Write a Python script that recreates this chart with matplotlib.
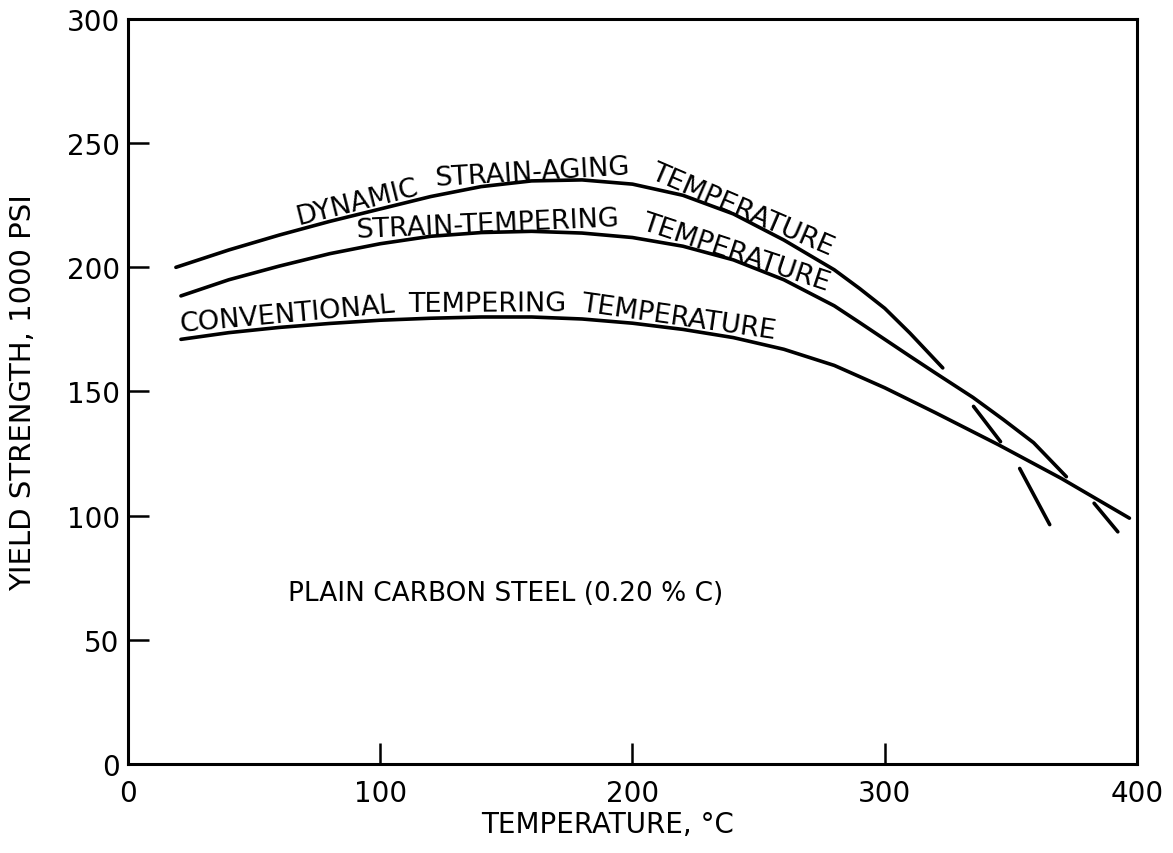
import matplotlib.pyplot as plt
import numpy as np

# yield strength (1000 psi) vs temperature (C)
dsa_temp = [19, 40, 60, 80, 100, 120, 140, 160, 180, 200, 220, 240, 260, 280, 290, 300, 310, 323]
dsa_ys = [200, 207, 213, 218.5, 223.5, 228.5, 232.5, 234.8, 235.2, 233.5, 229, 221.5, 211, 199, 191.5,
          183.5, 173.5, 159.5]

st_temp = [21, 40, 60, 80, 100, 120, 140, 160, 180, 200, 220, 240, 260, 280, 290, 300, 310, 320, 335, 347,
           359, 372]
st_ys = [188.5, 195, 200.5, 205.5, 209.5, 212.5, 214, 214.5, 213.8, 212, 208.5, 203, 195, 184.5, 177.8,
         171, 164.2, 157.5, 147.6, 138.7, 129.4, 115.7]

ct_temp = [21, 40, 60, 80, 100, 120, 140, 160, 180, 200, 220, 240, 260, 280, 300, 320, 345, 370, 397]
ct_ys = [171, 173.7, 175.8, 177.4, 178.7, 179.5, 180, 180, 179.2, 177.5, 175, 171.7, 167, 160.5, 151.5, 141.5,
         128.6, 115, 99]

# short strokes near the lower ends of the curves
stroke_temp = [[335.2, 345.9], [353.5, 365.4], [383, 392.4]]
stroke_ys = [[144, 129.8], [119, 96.4], [105, 93.5]]

xticks = [0, 100, 200, 300, 400]
yticks = [0, 50, 100, 150, 200, 250, 300]

dsa_label = "DYNAMIC STRAIN-AGING TEMPERATURE"
st_label = "STRAIN-TEMPERING TEMPERATURE"
ct_label = "CONVENTIONAL TEMPERING TEMPERATURE"
note = "PLAIN CARBON STEEL (0.20 % C)"


def label_along(ax, xs, ys, text, x_start, offset, size, gap=2.0):
    """write the words of text one by one along a curve, above it"""
    r = ax.figure.canvas.get_renderer()
    pts = ax.transData.transform(np.column_stack([xs, ys]))
    seg = np.hypot(np.diff(pts[:, 0]), np.diff(pts[:, 1]))
    s = np.concatenate([[0], np.cumsum(seg)])
    fine = np.linspace(0, s[-1], 3000)
    px = np.interp(fine, s, pts[:, 0])
    py = np.interp(fine, s, pts[:, 1])
    x0 = ax.transData.transform((x_start, 0))[0]
    s_cur = np.interp(x0, px, fine)

    sp = ax.text(0, 0, "A A", fontsize=size)
    sp2 = ax.text(0, 0, "AA", fontsize=size)
    space = (sp.get_window_extent(r).width - sp2.get_window_extent(r).width) * gap
    sp.remove()
    sp2.remove()

    for w in text.split(" "):
        t = ax.text(0, 0, w, fontsize=size, ha="center", va="baseline", rotation_mode="anchor")
        width = t.get_window_extent(r).width
        sa, sc, sb = s_cur, s_cur + width / 2, s_cur + width
        xa, ya = np.interp(sa, fine, px), np.interp(sa, fine, py)
        xb, yb = np.interp(sb, fine, px), np.interp(sb, fine, py)
        xc, yc = np.interp(sc, fine, px), np.interp(sc, fine, py)
        ang = np.arctan2(yb - ya, xb - xa)
        mx = 0.5 * (xc + 0.5 * (xa + xb))
        my = 0.5 * (yc + 0.5 * (ya + yb))
        mx -= np.sin(ang) * offset
        my += np.cos(ang) * offset
        dx, dy = ax.transData.inverted().transform((mx, my))
        t.set_position((dx, dy))
        t.set_rotation(np.degrees(ang))
        s_cur = sb + space


fig = plt.figure(figsize=(11.73, 8.54), dpi=100)
ax = fig.add_axes([0.1091, 0.1042, 0.8602, 0.8724])

lw = 2.6
ax.plot(dsa_temp, dsa_ys, color="black", lw=lw, solid_capstyle="round")
ax.plot(st_temp, st_ys, color="black", lw=lw, solid_capstyle="round")
ax.plot(ct_temp, ct_ys, color="black", lw=lw, solid_capstyle="round")
for xs, ys in zip(stroke_temp, stroke_ys):
    ax.plot(xs, ys, color="black", lw=lw, solid_capstyle="round")

ax.set_xlim(0, 400)
ax.set_ylim(0, 300)
ax.set_xticks(xticks)
ax.set_yticks(yticks)
ax.tick_params(axis="both", direction="in", length=15, width=1.8, labelsize=20)
ax.tick_params(axis="x", pad=11)
ax.tick_params(axis="y", pad=6)
for sp in ax.spines.values():
    sp.set_linewidth(2.2)

ax.set_xlabel("TEMPERATURE, °C", fontsize=20)
ax.xaxis.set_label_coords(0.475, -0.062)
ax.set_ylabel("YIELD STRENGTH, 1000 PSI", fontsize=21)
ax.yaxis.set_label_coords(-0.09, 0.5)

ax.text(63.6, 69, note, fontsize=19, va="center", ha="left")

fig.canvas.draw()
label_along(ax, dsa_temp, dsa_ys, dsa_label, 68, 6, 19.5, gap=2.0)
label_along(ax, st_temp, st_ys, st_label, 91, 6, 19.5, gap=2.3)
label_along(ax, ct_temp, ct_ys, ct_label, 19, 7, 19.5, gap=1.6)

fig.savefig("out.png", dpi=100)
